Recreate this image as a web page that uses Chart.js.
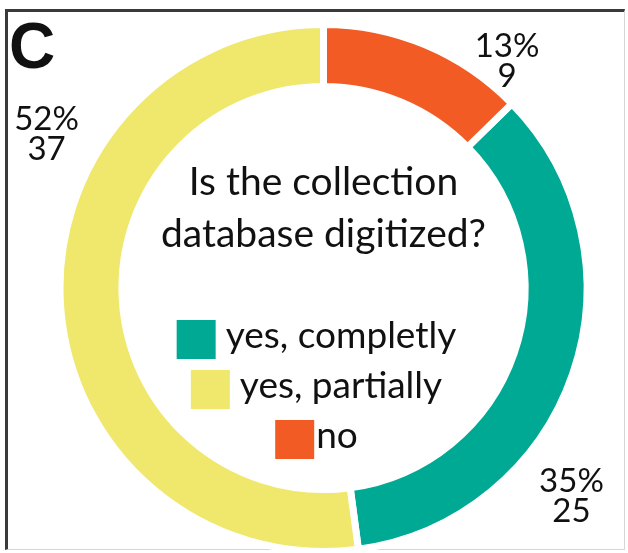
<!DOCTYPE html>
<html>
<head>
<meta charset="utf-8">
<script src="https://cdn.jsdelivr.net/npm/chart.js@4.4.1/dist/chart.umd.min.js"></script>
<style>
  html, body { margin: 0; padding: 0; background: #fff; }
  #wrap { position: relative; width: 628px; height: 553px; overflow: hidden; }
  #frame {
    position: absolute; left: 5px; top: 9px; width: 616px; height: 537px;
    border-top: 3px solid #3a3a3a; border-left: 3px solid #3a3a3a;
    border-right: 1px solid #d6d6d6; border-bottom: 1px solid #d6d6d6;
  }
  canvas { position: absolute; left: 0; top: 0; }
</style>
</head>
<body>
<div id="wrap">
  <div id="frame"></div>
  <canvas id="donut" width="628" height="553"></canvas>
</div>
<script>
const categories = ['yes, completly', 'yes, partially', 'no'];
const counts = [25, 37, 9];
const colors = ['#00a994', '#efe86c', '#f25c24'];
const titleLines = ['Is the collection', 'database digitized?'];
const panelLetter = 'C';

const total = counts.reduce((a, b) => a + b, 0);
// "no" slice starts at 12 o'clock, so rotate by its share
const startRotation = counts[2] / total * 360;

// where each value label sits: angle from 12 o'clock (deg) and distance in outer radii
const labelSpots = [
  { angle: 130, dist: 1.245 },
  { angle: 299, dist: 1.218 },
  { angle: 39, dist: 1.122 }
];
const legendGaps = [10, 10, 2];

const textFont = 'Lato, "Open Sans", sans-serif';

const overlay = {
  id: 'overlay',
  afterDraw(chart) {
    const ctx = chart.ctx;
    const arc = chart.getDatasetMeta(0).data[0];
    const cx = arc.x, cy = arc.y;
    const outer = 260;
    ctx.save();
    ctx.fillStyle = '#111';

    // panel letter
    ctx.textAlign = 'left';
    ctx.textBaseline = 'alphabetic';
    ctx.font = 'bold 64px "Liberation Sans", Arial, sans-serif';
    ctx.fillText(panelLetter, 9, 68);

    // title in the hole
    ctx.textAlign = 'center';
    ctx.font = '39px ' + textFont;
    titleLines.forEach((line, i) => ctx.fillText(line, cx, cy - 93 + i * 52));

    // legend
    ctx.font = '37px ' + textFont;
    ctx.textAlign = 'left';
    categories.forEach((cat, i) => {
      const box = 39;
      const w = box + legendGaps[i] + ctx.measureText(cat).width;
      const x0 = cx - 7 - w / 2;
      const top = cy + 32 + i * 50;
      ctx.fillStyle = colors[i];
      ctx.fillRect(x0, top, box, box);
      ctx.fillStyle = '#111';
      ctx.fillText(cat, x0 + box + legendGaps[i], top + 28);
    });

    // value labels
    ctx.textAlign = 'center';
    ctx.textBaseline = 'middle';
    ctx.font = '33px ' + textFont;
    counts.forEach((v, i) => {
      const a = labelSpots[i].angle * Math.PI / 180;
      const d = labelSpots[i].dist * outer;
      const x = cx + d * Math.sin(a);
      const y = cy - d * Math.cos(a);
      ctx.fillText(Math.round(v / total * 100) + '%', x, y - 15);
      ctx.fillText(String(v), x, y + 15);
    });
    ctx.restore();
  }
};

new Chart(document.getElementById('donut'), {
  type: 'doughnut',
  data: {
    labels: categories,
    datasets: [{
      data: counts,
      backgroundColor: colors,
      borderColor: '#ffffff',
      borderWidth: 7
    }]
  },
  options: {
    responsive: false,
    animation: false,
    rotation: startRotation,
    radius: 263.5,
    cutout: '76.5%',
    layout: { padding: { left: 19, top: 23 } },
    plugins: {
      legend: { display: false },
      tooltip: { enabled: false }
    }
  },
  plugins: [overlay]
});
</script>
</body>
</html>
